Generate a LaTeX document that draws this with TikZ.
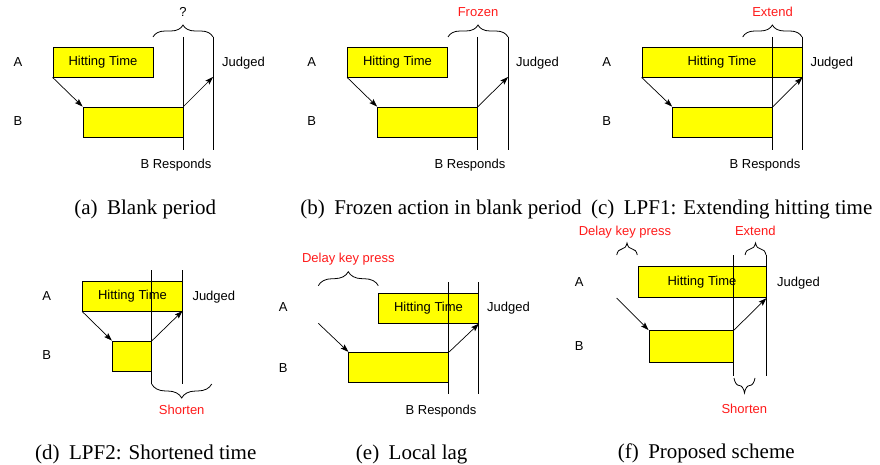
\documentclass[tikz,border=0pt]{standalone}
\usepackage{fontspec}
\setmainfont{Liberation Serif}
\newfontfamily\labfont{Liberation Sans}
\usetikzlibrary{arrows.meta,decorations.pathreplacing}
\definecolor{boxyellow}{HTML}{FFFF00}
\definecolor{lblred}{HTML}{FF1A1A}
\tikzset{
  tbox/.style={draw=black, fill=boxyellow, line width=0.8pt, inner sep=0pt, font=\labfont\fontsize{13}{15}\selectfont},
  lbl/.style={font=\labfont\fontsize{13}{15}\selectfont, inner sep=0pt, anchor=base},
  rlbl/.style={lbl, text=lblred},
  capt/.style={font=\fontsize{21}{25}\selectfont, inner sep=0pt, anchor=base},
  vline/.style={line width=0.8pt},
  conn/.style={line width=0.7pt, -{Stealth[length=8pt,width=5.5pt,inset=1.5pt]}},
  brc/.style={line width=0.8pt, decorate, decoration={brace, amplitude=#1}},
}
\begin{document}
\begin{tikzpicture}[x=1pt, y=-1pt]
\useasboundingbox (0,0) rectangle (880,465);
% ---------------- (a)
\node[tbox, minimum width=100pt, minimum height=30pt] (aA) at (103,62) {Hitting Time};
\node[tbox, minimum width=100pt, minimum height=30pt] (aB) at (133,122) {};
\coordinate (aR1) at (183,37); \coordinate (aR2) at (183,150);
\coordinate (aJ1) at (213,37); \coordinate (aJ2) at (213,150);
\coordinate (aBr) at (153,37); \coordinate (aT) at (213,77);
\draw[vline] (aR1) -- (aR2);
\draw[vline] (aJ1) -- (aJ2);
\draw[brc=12pt] (aBr) -- (aJ1);
\draw[conn] (aA.south west) -- (aB.north west);
\draw[conn] (aB.north east) -- (aT);
\node[lbl] (aLA) at (18,66.7) {A};
\node[lbl] (aLB) at (18,125.4) {B};
\node[lbl, anchor=base west] (aLJ) at (222,66.7) {Judged};
\node[lbl] (aLR) at (176,169) {B Responds};
\node[lbl] (aQ) at (183,17) {?};
\node[capt] (aC) at (145.3,214) {(a)\hspace{0.45em}Blank period};
% ---------------- (b)
\node[tbox, minimum width=100pt, minimum height=30pt] (bA) at (397.5,62) {Hitting Time};
\node[tbox, minimum width=100pt, minimum height=30pt] (bB) at (427.5,122) {};
\coordinate (bR1) at (477.5,37); \coordinate (bR2) at (477.5,150);
\coordinate (bJ1) at (508,37); \coordinate (bJ2) at (508,150);
\coordinate (bBr) at (448,37); \coordinate (bT) at (508,77);
\draw[vline] (bR1) -- (bR2);
\draw[vline] (bJ1) -- (bJ2);
\draw[brc=12pt] (bBr) -- (bJ1);
\draw[conn] (bA.south west) -- (bB.north west);
\draw[conn] (bB.north east) -- (bT);
\node[lbl] (bLA) at (311.7,66.7) {A};
\node[lbl] (bLB) at (311.7,125.4) {B};
\node[lbl, anchor=base west] (bLJ) at (516,66.7) {Judged};
\node[lbl] (bLR) at (470,169) {B Responds};
\node[rlbl] (bF) at (478,16.4) {Frozen};
\node[capt] (bC) at (441,214) {(b)\hspace{0.45em}Frozen action in blank period};
% ---------------- (c)
\node[tbox, minimum width=160pt, minimum height=30pt] (cA) at (722,62) {Hitting Time};
\node[tbox, minimum width=100pt, minimum height=30pt] (cB) at (722.5,122) {};
\coordinate (cR1) at (772.5,37); \coordinate (cR2) at (772.5,150);
\coordinate (cJ1) at (802,37); \coordinate (cJ2) at (802,150);
\coordinate (cBr) at (742.7,37);
\draw[vline] (cR1) -- (cR2);
\draw[vline] (cJ1) -- (cJ2);
\draw[brc=12pt] (cBr) -- (cJ1);
\draw[conn] (cA.south west) -- (cB.north west);
\draw[conn] (cB.north east) -- (cA.south east);
\node[lbl] (cLA) at (606.7,66.7) {A};
\node[lbl] (cLB) at (606.7,125.4) {B};
\node[lbl, anchor=base west] (cLJ) at (810.3,66.7) {Judged};
\node[lbl] (cLR) at (765,169) {B Responds};
\node[rlbl] (cE) at (772.5,16.4) {Extend};
\node[capt] (cC) at (731.7,214) {(c)\hspace{0.45em}LPF1: Extending hitting time};
% ---------------- (d)
\node[tbox, minimum width=100pt, minimum height=30pt] (dA) at (132.5,296) {Hitting Time};
\node[tbox, minimum width=39.4pt, minimum height=30pt] (dB) at (132,356) {};
\coordinate (dR1) at (151.7,270); \coordinate (dR2) at (151.7,384);
\coordinate (dJ1) at (182.5,270); \coordinate (dJ2) at (182.5,384);
\coordinate (dBr) at (211.7,384); \coordinate (dT) at (182.5,311);
\draw[vline] (dR1) -- (dR2);
\draw[vline] (dJ1) -- (dJ2);
\draw[brc=14pt] (dBr) -- (dR2);
\draw[conn] (dA.south west) -- (dB.north west);
\draw[conn] (dB.north east) -- (dT);
\node[lbl] (dLA) at (46.7,300.4) {A};
\node[lbl] (dLB) at (46.7,359.7) {B};
\node[lbl, anchor=base west] (dLJ) at (192.3,300.4) {Judged};
\node[rlbl] (dS) at (181.7,414) {Shorten};
\node[capt] (dC) at (145.8,459) {(d)\hspace{0.45em}LPF2: Shortened time};
% ---------------- (e)
\node[tbox, minimum width=100pt, minimum height=30pt] (eA) at (428.5,308.3) {Hitting Time};
\node[tbox, minimum width=100pt, minimum height=30pt] (eB) at (398.8,367.3) {};
\coordinate (eR1) at (448.8,282.3); \coordinate (eR2) at (448.8,394.3);
\coordinate (eJ1) at (478.5,282.3); \coordinate (eJ2) at (478.5,394.3);
\coordinate (eBr1) at (318.3,285.7); \coordinate (eBr2) at (378.3,285.7);
\coordinate (eS) at (318.3,323.3);
\draw[vline] (eR1) -- (eR2);
\draw[vline] (eJ1) -- (eJ2);
\draw[brc=14pt] (eBr1) -- (eBr2);
\draw[conn] (eS) -- (eB.north west);
\draw[conn] (eB.north east) -- (eA.south east);
\node[lbl] (eLA) at (283.3,311.4) {A};
\node[lbl] (eLB) at (283.3,372) {B};
\node[lbl, anchor=base west] (eLJ) at (487,311.4) {Judged};
\node[lbl] (eLR) at (441,414) {B Responds};
\node[rlbl] (eD) at (348.3,262) {Delay key press};
\node[capt] (eC) at (411.7,459) {(e)\hspace{0.45em}Local lag};
% ---------------- (f)
\node[tbox, minimum width=128pt, minimum height=31.5pt] (fA) at (702,282) {Hitting Time};
\node[tbox, minimum width=84.7pt, minimum height=31.5pt] (fB) at (691.3,346.2) {};
\coordinate (fR1) at (733.6,255); \coordinate (fR2) at (733.6,375.7);
\coordinate (fJ1) at (766,255); \coordinate (fJ2) at (766,375.7);
\coordinate (fD1) at (616.7,255); \coordinate (fD2) at (637.3,255);
\coordinate (fE1) at (745,255);
\coordinate (fS1) at (755,378); \coordinate (fS2) at (734,378);
\coordinate (fS) at (616.7,298);
\draw[vline] (fR1) -- (fR2);
\draw[vline] (fJ1) -- (fJ2);
\draw[brc=12pt] (fD1) -- (fD2);
\draw[brc=12pt] (fE1) -- (fJ1);
\draw[brc=15pt] (fS1) -- (fS2);
\draw[conn] (fS) -- (fB.north west);
\draw[conn] (fB.north east) -- (fA.south east);
\node[lbl] (fLA) at (579.3,286.4) {A};
\node[lbl] (fLB) at (579.3,350.7) {B};
\node[lbl, anchor=base west] (fLJ) at (777,286.4) {Judged};
\node[rlbl] (fD) at (625,235.7) {Delay key press};
\node[rlbl] (fE) at (755.3,235.7) {Extend};
\node[rlbl] (fSh) at (744.3,413) {Shorten};
\node[capt] (fC) at (706.3,458) {(f)\hspace{0.45em}Proposed scheme};
\end{tikzpicture}
\end{document}
